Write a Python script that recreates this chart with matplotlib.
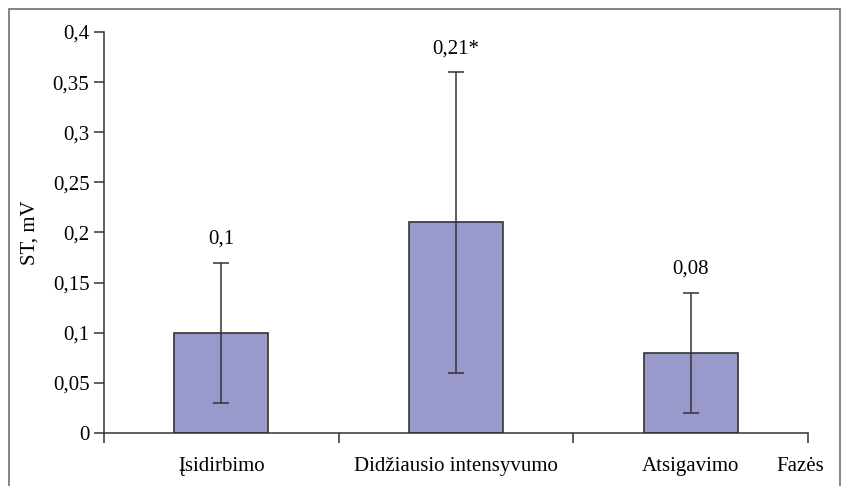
import matplotlib.pyplot as plt
from matplotlib.patches import Rectangle

categories = ['Įsidirbimo', 'Didžiausio intensyvumo', 'Atsigavimo']
values = [0.1, 0.21, 0.08]
err_low = [0.03, 0.06, 0.02]
err_high = [0.17, 0.36, 0.14]
value_labels = ['0,1', '0,21*', '0,08']
y_ticks = [0, 0.05, 0.1, 0.15, 0.2, 0.25, 0.3, 0.35, 0.4]
y_tick_labels = ['0', '0,05', '0,1', '0,15', '0,2', '0,25', '0,3', '0,35', '0,4']

plt.rcParams['font.family'] = ['Liberation Serif', 'DejaVu Serif']
fs = 15

fig = plt.figure(figsize=(8.41, 4.86), dpi=100)
ax = fig.add_axes([104 / 841, 53 / 486, 704 / 841, 401 / 486])

# outer frame like the Excel chart area
fig.patches.append(Rectangle((9 / 841, -0.1), 831 / 841, 1.1 - 9 / 486,
                             transform=fig.transFigure, fill=False,
                             edgecolor='#707070', linewidth=1.2))

x = list(range(len(categories)))
yerr = [[v - lo for v, lo in zip(values, err_low)],
        [hi - v for v, hi in zip(values, err_high)]]
ax.bar(x, values, width=0.4, color='#9999cc', edgecolor='#333333',
       linewidth=1.2, zorder=2)
ax.errorbar(x, values, yerr=yerr, fmt='none', ecolor='#333333',
            elinewidth=1.1, capsize=6, capthick=1.1, zorder=3)

for xi, hi, lab in zip(x, err_high, value_labels):
    ax.text(xi, hi + 0.014, lab, ha='center', va='bottom', fontsize=fs)

ax.set_xlim(-0.5, 2.5)
ax.set_ylim(0, 0.4)
ax.set_yticks(y_ticks)
ax.set_yticklabels(y_tick_labels, fontsize=fs)
ax.set_xticks([-0.5, 0.5, 1.5, 2.5])
ax.set_xticklabels([])
ax.tick_params(axis='both', direction='out', length=7, width=1.1,
               color='#333333')
for xi, lab in zip(x, categories):
    ax.text(xi, -0.0335, lab, ha='center', va='center', fontsize=fs)
ax.text(2.466, -0.0335, 'Fazės', ha='center', va='center', fontsize=fs)

ax.set_ylabel('ST, mV', fontsize=fs)
ax.yaxis.set_label_coords(-0.092, 0.5)

for side in ['top', 'right']:
    ax.spines[side].set_visible(False)
for side in ['left', 'bottom']:
    ax.spines[side].set_color('#333333')
    ax.spines[side].set_linewidth(1.1)

fig.savefig('out.png', dpi=100)
